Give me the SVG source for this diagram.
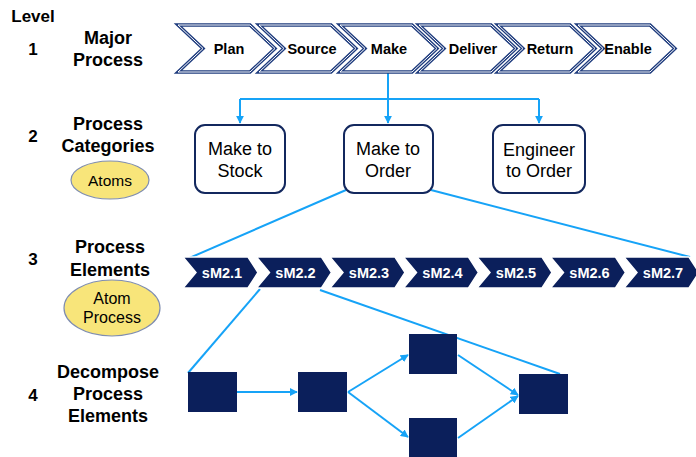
<svg xmlns="http://www.w3.org/2000/svg" width="696" height="457" viewBox="0 0 696 457">
<style>
text{font-family:"Liberation Sans",Arial,sans-serif;fill:#000}
.lab{font-size:18px;font-weight:bold;text-anchor:middle}
.lvl{font-size:17px;font-weight:bold;text-anchor:middle}
.chv{fill:#fff;stroke:#1F3C7E;stroke-width:3.4;stroke-linejoin:miter}
.chvi{fill:none;stroke:#fff;stroke-width:1}
.ct{font-size:14.5px;font-weight:bold;text-anchor:middle}
.box{fill:#fff;stroke:#13285E;stroke-width:2}
.bt{font-size:18px;text-anchor:middle}
.sm{fill:#0B1F5B;stroke:#fff;stroke-width:1.5}
.st{font-size:14.5px;font-weight:bold;text-anchor:middle;fill:#fff}
.atom{fill:#F8E57A;stroke:#7F8DB0;stroke-width:1.2}
.at{font-size:15.5px;text-anchor:middle}
.sq{fill:#0B1F5B}
.cn{fill:none;stroke:#16A3F7;stroke-width:2}
</style>
<defs>
<marker id="ah" viewBox="0 0 10 10" refX="9" refY="5" markerWidth="4" markerHeight="4" orient="auto" markerUnits="strokeWidth">
<path d="M0,0 L10,5 L0,10 z" fill="#16A3F7"/>
</marker>
<path id="chev" d="M0,0 L72,0 L97,23.5 L72,47 L0,47 L25,23.5 Z"/>
<path id="smc" d="M0,0 L65,0 L75,15.5 L65,31 L0,31 L13,15.5 Z"/>
</defs>

<g id="labels">
<text class="lvl" x="33" y="22">Level</text>
<text class="lvl" x="33" y="55">1</text>
<text class="lab" x="108" y="44">Major</text>
<text class="lab" x="108" y="66">Process</text>
<text class="lvl" x="33" y="142">2</text>
<text class="lab" x="108" y="130">Process</text>
<text class="lab" x="108" y="152">Categories</text>
<text class="lvl" x="33" y="265">3</text>
<text class="lab" x="110" y="253">Process</text>
<text class="lab" x="110" y="276">Elements</text>
<text class="lvl" x="33" y="401">4</text>
<text class="lab" x="108" y="378">Decompose</text>
<text class="lab" x="108" y="400">Process</text>
<text class="lab" x="108" y="422">Elements</text>
</g>

<g id="atoms">
<ellipse class="atom" cx="110" cy="180" rx="39" ry="19"/>
<text class="at" x="110" y="185.5">Atoms</text>
</g>
<g id="atomprocess">
<ellipse class="atom" cx="112" cy="308" rx="48" ry="28"/>
<text class="at" x="112" y="304" style="font-size:16px">Atom</text>
<text class="at" x="112" y="323" style="font-size:16px">Process</text>
</g>

<g id="connectors">
<path class="cn" d="M388,72 V123" marker-end="url(#ah)"/>
<path class="cn" d="M240,99 H539"/>
<path class="cn" d="M240,99 V123" marker-end="url(#ah)"/>
<path class="cn" d="M539,99 V123" marker-end="url(#ah)"/>
<path class="cn" d="M346,190 L187,259"/>
<path class="cn" d="M431,190 L690,257"/>
<path class="cn" d="M260,289 L188,373"/>
<path class="cn" d="M320,290 L560,374"/>
<path class="cn" d="M237,392 H297" marker-end="url(#ah)"/>
<path class="cn" d="M348,392 L408,355" marker-end="url(#ah)"/>
<path class="cn" d="M348,392 L408,437" marker-end="url(#ah)"/>
<path class="cn" d="M458,355 L518,395" marker-end="url(#ah)"/>
<path class="cn" d="M458,438 L518,396" marker-end="url(#ah)"/>
</g>

<g id="plan"><use href="#chev" class="chv" x="178" y="25"/><use href="#chev" class="chvi" x="178" y="25"/><text class="ct" x="229" y="54">Plan</text></g>
<g id="source"><use href="#chev" class="chv" x="259" y="25"/><use href="#chev" class="chvi" x="259" y="25"/><text class="ct" x="312" y="54">Source</text></g>
<g id="make"><use href="#chev" class="chv" x="340" y="25"/><use href="#chev" class="chvi" x="340" y="25"/><text class="ct" x="389" y="54">Make</text></g>
<g id="deliver"><use href="#chev" class="chv" x="419" y="25"/><use href="#chev" class="chvi" x="419" y="25"/><text class="ct" x="473" y="54">Deliver</text></g>
<g id="return"><use href="#chev" class="chv" x="498" y="25"/><use href="#chev" class="chvi" x="498" y="25"/><text class="ct" x="550" y="54">Return</text></g>
<g id="enable"><use href="#chev" class="chv" x="578" y="25"/><use href="#chev" class="chvi" x="578" y="25"/><text class="ct" x="628" y="54">Enable</text></g>

<g id="mts"><rect class="box" x="195" y="125" width="90" height="68" rx="10"/><text class="bt" x="240" y="155">Make to</text><text class="bt" x="240" y="177">Stock</text></g>
<g id="mto"><rect class="box" x="344" y="125" width="89" height="68" rx="10"/><text class="bt" x="388" y="155">Make to</text><text class="bt" x="388" y="177">Order</text></g>
<g id="eto"><rect class="box" x="493" y="125" width="92" height="68" rx="10"/><text class="bt" x="539" y="156">Engineer</text><text class="bt" x="539" y="177">to Order</text></g>

<g id="sm21"><use href="#smc" class="sm" x="183" y="257"/><text class="st" x="222" y="277.5">sM2.1</text></g>
<g id="sm22"><use href="#smc" class="sm" x="256.5" y="257"/><text class="st" x="295.5" y="277.5">sM2.2</text></g>
<g id="sm23"><use href="#smc" class="sm" x="330" y="257"/><text class="st" x="369" y="277.5">sM2.3</text></g>
<g id="sm24"><use href="#smc" class="sm" x="403.5" y="257"/><text class="st" x="442.5" y="277.5">sM2.4</text></g>
<g id="sm25"><use href="#smc" class="sm" x="477" y="257"/><text class="st" x="516" y="277.5">sM2.5</text></g>
<g id="sm26"><use href="#smc" class="sm" x="550.5" y="257"/><text class="st" x="589.5" y="277.5">sM2.6</text></g>
<g id="sm27"><use href="#smc" class="sm" x="624" y="257"/><text class="st" x="663" y="277.5">sM2.7</text></g>

<g id="b1"><rect class="sq" x="188" y="372" width="49" height="40"/></g>
<g id="b2"><rect class="sq" x="298" y="372" width="49" height="40"/></g>
<g id="b3"><rect class="sq" x="409" y="334" width="48" height="40"/></g>
<g id="b4"><rect class="sq" x="409" y="418" width="48" height="40"/></g>
<g id="b5"><rect class="sq" x="519" y="374" width="49" height="40"/></g>
</svg>
